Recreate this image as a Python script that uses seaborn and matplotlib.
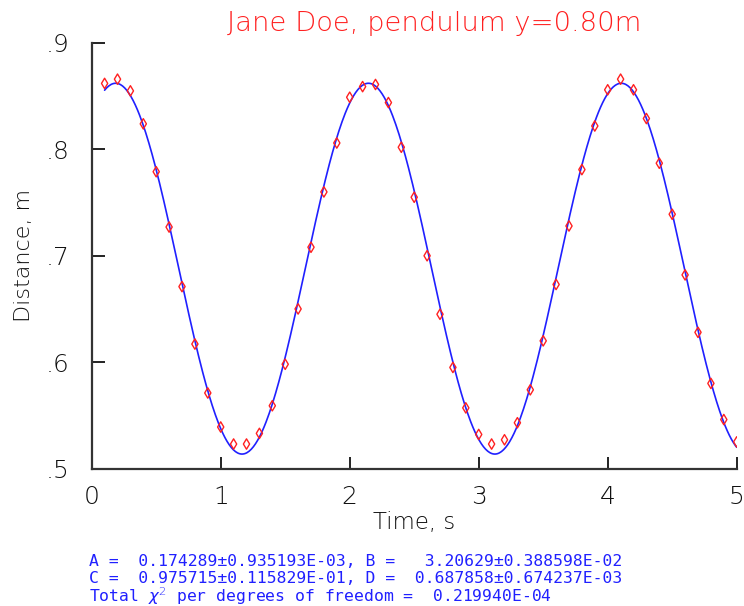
import numpy as np
import pandas as pd
import matplotlib
matplotlib.use("Agg")
import matplotlib.pyplot as plt
import seaborn as sns

# Measured data points (time in s, distance in m)
time_s = [0.1, 0.2, 0.3, 0.4, 0.5, 0.6, 0.7, 0.8, 0.9, 1.0,
          1.1, 1.2, 1.3, 1.4, 1.5, 1.6, 1.7, 1.8, 1.9, 2.0,
          2.1, 2.2, 2.3, 2.4, 2.5, 2.6, 2.7, 2.8, 2.9, 3.0,
          3.1, 3.2, 3.3, 3.4, 3.5, 3.6, 3.7, 3.8, 3.9, 4.0,
          4.1, 4.2, 4.3, 4.4, 4.5, 4.6, 4.7, 4.8, 4.9, 5.0]
distance_m = [0.862, 0.866, 0.855, 0.824, 0.779, 0.727, 0.671, 0.617, 0.571, 0.539,
              0.523, 0.523, 0.533, 0.559, 0.598, 0.650, 0.708, 0.760, 0.806, 0.849,
              0.859, 0.861, 0.844, 0.802, 0.755, 0.700, 0.645, 0.595, 0.557, 0.532,
              0.523, 0.527, 0.543, 0.574, 0.620, 0.673, 0.728, 0.781, 0.822, 0.856,
              0.866, 0.856, 0.829, 0.787, 0.739, 0.682, 0.628, 0.580, 0.546, 0.525]

# Fit parameters shown on the chart: y = A*sin(B*t + C) + D
fit_A = 0.174289
fit_B = 3.20629
fit_C = 0.975715
fit_D = 0.687858

x_ticks = [0, 1, 2, 3, 4, 5]
x_tick_labels = ["0", "1", "2", "3", "4", "5"]
y_ticks = [0.5, 0.6, 0.7, 0.8, 0.9]
y_tick_labels = [".5", ".6", ".7", ".8", ".9"]

title_text = "Jane Doe, pendulum y=0.80m"
x_label = "Time, s"
y_label = "Distance, m"
fit_lines = [
    "A =  0.174289\u00b10.935193E-03, B =   3.20629\u00b10.388598E-02",
    "C =  0.975715\u00b10.115829E-01, D =  0.687858\u00b10.674237E-03",
    "Total $\\chi^2$ per degrees of freedom =  0.219940E-04",
]

sns.set_theme(style="white")
plt.rcParams["font.family"] = ["DejaVu Sans"]
plt.rcParams["font.weight"] = "light"
plt.rcParams["mathtext.fontset"] = "dejavusans"

points = pd.DataFrame({"t": time_s, "y": distance_m})
t_fit = np.linspace(min(time_s), max(time_s), 600)
curve = pd.DataFrame({"t": t_fit,
                      "y": fit_A * np.sin(fit_B * t_fit + fit_C) + fit_D})

fig = plt.figure(figsize=(7.44, 6.06), dpi=100)
ax = fig.add_axes([91.7 / 744, 1 - 468.5 / 606, 645 / 744, 425.5 / 606])

sns.lineplot(data=curve, x="t", y="y", ax=ax, color="#2020ff", linewidth=1.2)
sns.scatterplot(data=points, x="t", y="y", ax=ax, marker="d", s=28,
                facecolor="none", edgecolor="#ff2020", linewidth=1.0, zorder=3)

ax.set_xlim(0, 5)
ax.set_ylim(0.5, 0.9)
ax.set_xticks(x_ticks)
ax.set_xticklabels(x_tick_labels)
ax.set_yticks(y_ticks)
ax.set_yticklabels(y_tick_labels)
ax.tick_params(axis="both", which="major", bottom=True, left=True,
               direction="in", length=9, width=1.4,
               color="#222222", labelsize=18, labelcolor="#111111")
ax.tick_params(axis="x", pad=12)
ax.tick_params(axis="y", pad=16)
for side in ["top", "right"]:
    ax.spines[side].set_visible(False)
for side in ["left", "bottom"]:
    ax.spines[side].set_color("#333333")
    ax.spines[side].set_linewidth(1.6)
ax.set_xlabel(x_label, fontsize=16.5, color="#111111", labelpad=1,
              fontweight="light")
ax.set_ylabel(y_label, fontsize=16, color="#111111", labelpad=8,
              fontweight="light")

fig.text(434 / 744, 1 - 23 / 606, title_text, color="#ff2020", fontsize=19.7,
         ha="center", va="center")
for i, line in enumerate(fit_lines):
    fig.text(89 / 744, 1 - (561 + 17.5 * i) / 606, line, color="#2020ff",
             fontsize=11.8, ha="left", va="center",
             family=["DejaVu Sans Mono", "DejaVu Sans"])

fig.savefig("out.png", dpi=100)
